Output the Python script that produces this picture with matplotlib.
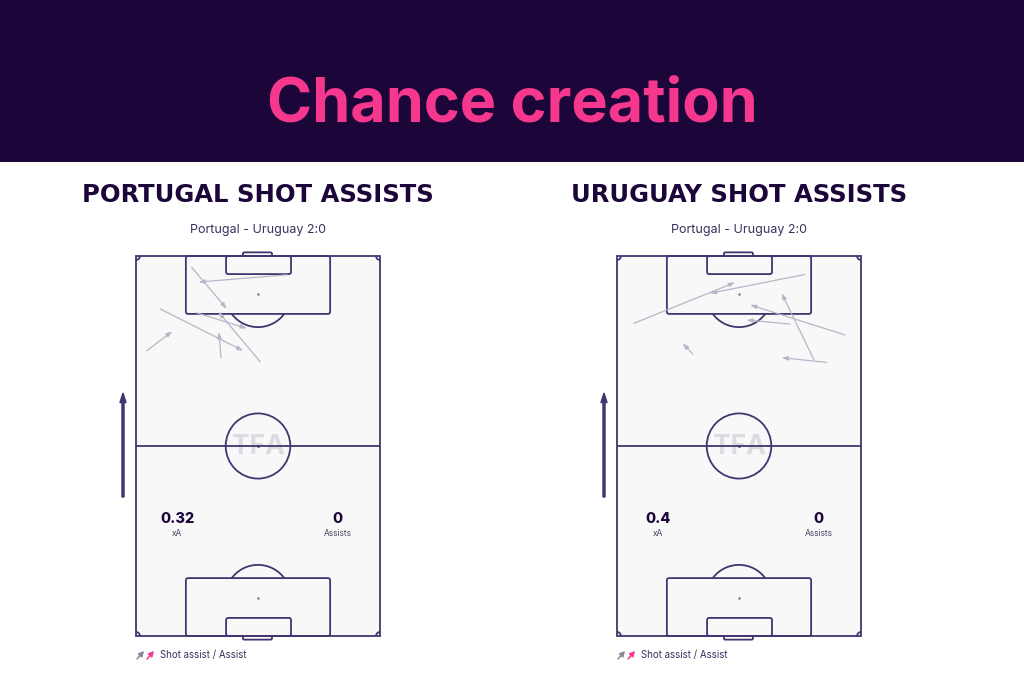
import math
import matplotlib
matplotlib.use('Agg')
import matplotlib.pyplot as plt
from matplotlib.patches import Rectangle, Arc, Circle, FancyBboxPatch, FancyArrow, FancyArrowPatch

plt.rcParams['font.family'] = ['Inter', 'DejaVu Sans']

HEADER = '#1b0539'
PINK = '#f5388e'
LINE = '#44346f'
ARROW = '#b9b5c9'
PITCH_BG = '#f8f8f9'

teams = ['PORTUGAL', 'URUGUAY']
match = 'Portugal - Uruguay 2:0'
xa_values = ['0.32', '0.4']
assist_values = ['0', '0']

# shot assists: (x_start, y_start, x_end, y_end), pitch 68 x 105, attacking upward
portugal_passes = [
    (15.5, 101.9, 25.3, 90.4),
    (42.0, 99.8, 17.4, 97.8),
    (6.7, 90.4, 29.9, 78.8),
    (3.0, 78.8, 10.1, 84.2),
    (23.7, 76.8, 23.1, 84.0),
    (34.6, 75.8, 22.9, 89.6),
    (16.9, 89.3, 30.9, 85.0),
]
uruguay_passes = [
    (4.7, 86.4, 32.9, 97.7),
    (52.4, 99.9, 25.9, 94.7),
    (63.5, 83.2, 37.1, 91.5),
    (48.2, 86.2, 36.1, 87.3),
    (54.9, 76.3, 45.9, 94.7),
    (58.4, 75.6, 45.9, 76.9),
    (21.1, 77.9, 18.3, 80.9),
]
passes = [portugal_passes, uruguay_passes]

W, L = 68, 105


def draw_pitch(ax):
    ax.set_xlim(0, W)
    ax.set_ylim(0, L)
    ax.axis('off')
    lw = 1.3
    kw = dict(fill=False, ec=LINE, lw=lw, clip_on=False)
    ax.add_patch(Rectangle((0, 0), W, L, fc=PITCH_BG, ec='none', zorder=0))
    ax.add_patch(Rectangle((0, 0), W, L, **kw))
    ax.plot([0, W], [L / 2, L / 2], color=LINE, lw=lw)
    ax.add_patch(Circle((W / 2, L / 2), 9.0, **kw))
    ax.plot(W / 2, L / 2, 'o', color=LINE, ms=1)
    box, spot_d, rad = 16, 10.5, 9.15
    a = math.degrees(math.asin((box - spot_d) / rad))
    for top in (False, True):
        y0 = L - box if top else 0
        ax.add_patch(FancyBboxPatch((13.9, y0), 40.2, box,
                                    boxstyle='round,pad=0,rounding_size=0.6', **kw))
        y6 = L - 5 if top else 0
        ax.add_patch(FancyBboxPatch((25.1, y6), 18.1, 5,
                                    boxstyle='round,pad=0,rounding_size=0.6', **kw))
        yg = L if top else -1.0
        ax.add_patch(FancyBboxPatch((29.8, yg), 8.1, 1.0,
                                    boxstyle='round,pad=0,rounding_size=0.4', **kw))
        spot = L - spot_d if top else spot_d
        ax.plot(W / 2, spot, 'o', color='#777777', ms=0.8)
        if top:
            t1, t2 = 180 + a, 360 - a
        else:
            t1, t2 = a, 180 - a
        ax.add_patch(Arc((W / 2, spot), 2 * rad, 2 * rad, theta1=t1, theta2=t2,
                         ec=LINE, lw=lw))
    r = 1.1
    for (cx, cy, t1) in [(0, 0, 0), (W, 0, 90), (W, L, 180), (0, L, 270)]:
        ax.add_patch(Arc((cx, cy), 2 * r, 2 * r, theta1=t1, theta2=t1 + 90,
                         ec=LINE, lw=lw))


fig = plt.figure(figsize=(10.24, 6.83), dpi=100)
fig.patches.append(Rectangle((0, 1 - 162 / 683), 1, 162 / 683, transform=fig.transFigure,
                             fc=HEADER, ec='none', zorder=0))
fig.text(0.5, 1 - 122 / 683, 'Chance creation', color=PINK, fontsize=44,
         fontweight='bold', ha='center', va='baseline')

lefts = [136, 617]
for i in range(2):
    left = lefts[i]
    cx = (left + 122) / 1024
    fig.text(cx, 1 - 202 / 683, teams[i] + ' SHOT ASSISTS', color=HEADER, fontsize=17.5,
             fontweight='bold', family='DejaVu Sans', ha='center', va='baseline')
    fig.text(cx, 1 - 233 / 683, match, color='#3b2f5c', fontsize=9,
             ha='center', va='baseline')

    ax = fig.add_axes([left / 1024, 1 - 636 / 683, 244 / 1024, 380 / 683])
    draw_pitch(ax)
    ax.text(W / 2, L / 2 - 0.3, 'TFA', color='#dcdbe3', fontsize=19, fontweight='bold',
            ha='center', va='center', zorder=1)
    for x0, y0, x1, y1 in passes[i]:
        ax.annotate('', xy=(x1, y1), xytext=(x0, y0),
                    arrowprops=dict(arrowstyle='-|>,head_length=0.35,head_width=0.12',
                                    color=ARROW, lw=0.9, shrinkA=0, shrinkB=0),
                    zorder=3)

    ax.text(11.5, 32.3, xa_values[i], color=HEADER, fontsize=10.5, fontweight='heavy',
            ha='center', va='center')
    ax.text(11.5, 28.4, 'xA', color='#4a4060', fontsize=6, ha='center', va='center')
    ax.text(56.2, 32.3, assist_values[i], color=HEADER, fontsize=10.5, fontweight='heavy',
            ha='center', va='center')
    ax.text(56.2, 28.4, 'Assists', color='#4a4060', fontsize=6, ha='center', va='center')

    # direction of play
    ax_x = (left - 13) / 1024
    fig.patches.append(FancyArrow(
        ax_x, 1 - 497 / 683, 0, (497 - 393) / 683, width=0.002, head_width=0.006,
        head_length=0.014, length_includes_head=True, color=LINE,
        transform=fig.transFigure))

    # legend
    for j, c in enumerate(['#8a8798', PINK]):
        lx = left + 1 + j * 10
        fig.patches.append(FancyArrowPatch(
            (lx / 1024, 1 - 659 / 683), ((lx + 7) / 1024, 1 - 651 / 683),
            transform=fig.transFigure,
            arrowstyle='-|>,head_length=3,head_width=1.6', color=c, lw=1.1,
            shrinkA=0, shrinkB=0))
    fig.text((left + 24) / 1024, 1 - 655 / 683, 'Shot assist / Assist', color='#3b2f5c',
             fontsize=7, ha='left', va='center')

fig.savefig('out.png', dpi=100, facecolor='white')
